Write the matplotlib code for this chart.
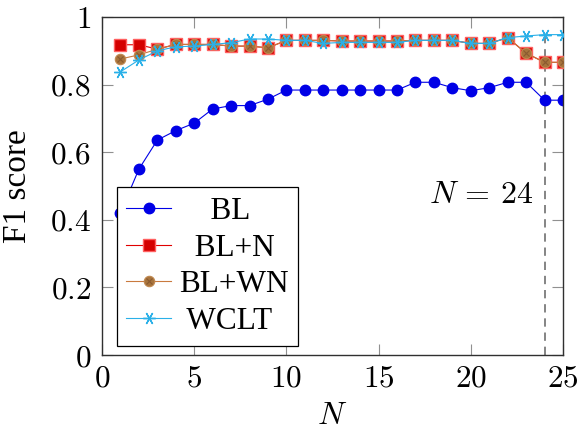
import matplotlib
matplotlib.use("Agg")
import matplotlib.pyplot as plt
from matplotlib.legend_handler import HandlerTuple

plt.rcParams["mathtext.fontset"] = "cm"
plt.rcParams["font.family"] = ["Liberation Serif", "DejaVu Serif"]

# data
n_values = list(range(1, 26))
bl = [0.421, 0.550, 0.636, 0.664, 0.686, 0.728, 0.738, 0.738, 0.757, 0.784,
      0.784, 0.784, 0.784, 0.784, 0.784, 0.784, 0.807, 0.807, 0.791, 0.782,
      0.791, 0.807, 0.807, 0.754, 0.754]
bl_n = [0.918, 0.918, 0.905, 0.919, 0.919, 0.919, 0.914, 0.914, 0.909, 0.931,
        0.931, 0.931, 0.929, 0.929, 0.929, 0.929, 0.931, 0.931, 0.931, 0.922,
        0.922, 0.939, 0.893, 0.866, 0.866]
bl_wn = [0.876, 0.888, 0.905, 0.919, 0.919, 0.919, 0.914, 0.914, 0.909, 0.931,
         0.931, 0.931, 0.929, 0.929, 0.929, 0.929, 0.931, 0.931, 0.931, 0.922,
         0.922, 0.939, 0.893, 0.866, 0.866]
wclt = [0.838, 0.873, 0.900, 0.912, 0.914, 0.919, 0.924, 0.935, 0.935, 0.931,
        0.931, 0.922, 0.925, 0.925, 0.925, 0.925, 0.931, 0.931, 0.931, 0.922,
        0.922, 0.939, 0.944, 0.948, 0.948]
labels = ["    BL", "  BL+N", "BL+WN", " WCLT"]
x_ticks = [0, 5, 10, 15, 20, 25]
y_ticks = [0, 0.2, 0.4, 0.6, 0.8, 1]
y_tick_labels = ["0", "0.2", "0.4", "0.6", "0.8", "1"]
best_n = 24

fig = plt.figure(figsize=(5.81, 4.37), dpi=100)
ax = fig.add_axes([0.1756, 0.1876, 0.7934, 0.7734])

ax.plot([best_n, best_n], [0, 0.95], color="#707070", linestyle=(0, (5, 3.5)),
        linewidth=1.2, zorder=1)

l_bl, = ax.plot(n_values, bl, color="#0000e6", marker="o", markersize=7.5,
                linewidth=0.8, zorder=2)
l_bln, = ax.plot(n_values, bl_n, color="#e00000", marker="s", markersize=8,
                 markerfacecolor="#d40000", markeredgecolor="#ff6060",
                 markeredgewidth=1.0, linewidth=0.8, zorder=3)
l_blwn, = ax.plot(n_values, bl_wn, color="#c97a3e", marker="o", markersize=7.5,
                  markerfacecolor="#a8743c", markeredgecolor="#c08850",
                  markeredgewidth=0.8, linewidth=0.8, zorder=4)
x_blwn, = ax.plot(n_values, bl_wn, linestyle="none", marker="x", markersize=5,
                  markeredgecolor="#8a5a30", markeredgewidth=0.8, zorder=4)
l_wclt, = ax.plot(n_values, wclt, color="#2ab0e8", marker=(6, 2, 90),
                  markersize=9, markeredgewidth=1.0, linewidth=0.8, zorder=5)

ax.text(23.37, 0.473, r"$N\,=\,24$", fontsize=23, ha="right", va="center")

ax.set_xlim(0, 25)
ax.set_ylim(0, 1)
ax.set_xticks(x_ticks, labels=[f"${t}$" for t in x_ticks])
ax.set_yticks(y_ticks, labels=[f"${t}$" for t in y_tick_labels])
ax.tick_params(direction="in", length=8, width=0.8, color="#909090",
               labelsize=22.5, top=True, right=True)
ax.tick_params(axis="y", pad=8)
ax.tick_params(axis="x", pad=7)
for s in ax.spines.values():
    s.set_color("#303030")
    s.set_linewidth(1.0)

ax.set_xlabel(r"$N$", fontsize=23, labelpad=6)
ax.set_ylabel("F1 score", fontsize=24, labelpad=12)

leg = ax.legend([l_bl, l_bln, (l_blwn, x_blwn), l_wclt], labels,
                handler_map={tuple: HandlerTuple(ndivide=1)},
                loc="upper left", bbox_to_anchor=(0.032, 0.496),
                borderaxespad=0, fontsize=22.5, handlelength=1.45,
                handletextpad=0.25, labelspacing=0.25, borderpad=0.3,
                fancybox=False, framealpha=1, edgecolor="black")
leg.get_frame().set_linewidth(0.9)
leg.set_zorder(10)

fig.savefig("out.png", dpi=100)
